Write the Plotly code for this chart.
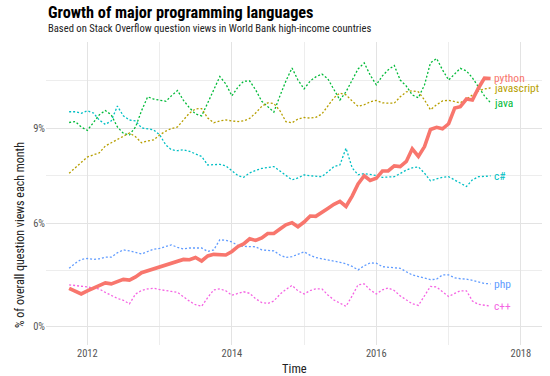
import pandas as pd
import plotly.graph_objects as go

months = pd.date_range("2011-10-01", periods=71, freq="MS")

python = [3.95, 3.87, 3.77, 3.87, 3.95, 4.03, 4.12, 4.09, 4.15, 4.23,
          4.21, 4.31, 4.44, 4.50, 4.56, 4.62, 4.67, 4.72, 4.78, 4.86,
          4.85, 4.92, 4.81, 4.97, 5.02, 5.02, 5.00, 5.11, 5.27, 5.35,
          5.51, 5.46, 5.54, 5.68, 5.68, 5.82, 5.95, 6.02, 5.89, 6.04,
          6.23, 6.22, 6.36, 6.47, 6.60, 6.69, 6.53, 6.86, 7.24, 7.50,
          7.35, 7.42, 7.65, 7.65, 7.81, 7.79, 7.95, 8.35, 8.11, 8.42,
          8.96, 9.03, 8.98, 9.14, 9.64, 9.68, 9.92, 9.89, 10.27, 10.58,
          10.57]

javascript = [7.58, 7.75, 7.91, 8.09, 8.16, 8.22, 8.44, 8.54, 8.66, 8.76,
              8.85, 8.73, 8.54, 8.60, 8.63, 8.79, 8.91, 8.99, 9.04, 9.26,
              9.48, 9.61, 9.62, 9.32, 9.17, 9.23, 9.26, 9.23, 9.21, 9.23,
              9.31, 9.48, 9.69, 9.80, 9.78, 9.55, 9.21, 9.17, 9.29, 9.34,
              9.32, 9.34, 9.45, 9.70, 9.96, 10.11, 10.05, 9.86, 9.69, 9.74,
              9.83, 9.88, 9.80, 9.79, 9.79, 9.99, 10.15, 10.18, 10.15, 9.89,
              9.58, 9.74, 9.86, 9.88, 9.83, 9.80, 9.92, 10.05, 10.18, 10.24,
              10.27]

java = [9.18, 9.21, 9.04, 8.93, 9.18, 9.42, 9.56, 9.42, 9.04, 8.84,
        8.79, 9.04, 9.55, 9.99, 9.92, 9.88, 9.85, 10.02, 10.19, 9.88,
        9.64, 9.45, 9.39, 9.80, 10.21, 10.63, 10.40, 10.02, 10.30, 10.48,
        10.49, 10.21, 9.85, 9.67, 9.51, 10.02, 10.49, 10.90, 10.52, 10.24,
        10.49, 10.62, 10.71, 10.56, 10.21, 9.89, 10.15, 10.52, 10.87, 11.06,
        10.68, 10.37, 10.65, 10.84, 10.98, 10.52, 10.33, 10.05, 9.96, 10.37,
        11.06, 11.20, 10.84, 10.52, 10.71, 10.89, 10.81, 10.59, 10.30, 10.02,
        9.80]

csharp = [9.52, 9.52, 9.47, 9.55, 9.48, 9.26, 9.12, 9.23, 9.70, 9.39,
          9.26, 9.23, 9.01, 8.97, 8.95, 8.79, 8.47, 8.32, 8.29, 8.32,
          8.27, 8.19, 8.11, 7.84, 7.86, 7.86, 7.81, 7.65, 7.50, 7.45,
          7.59, 7.67, 7.73, 7.76, 7.79, 7.65, 7.51, 7.37, 7.43, 7.53,
          7.50, 7.48, 7.47, 7.62, 7.79, 7.84, 8.37, 7.75, 7.53, 7.57,
          7.54, 7.51, 7.45, 7.46, 7.47, 7.57, 7.68, 7.75, 7.78, 7.58,
          7.34, 7.40, 7.45, 7.47, 7.37, 7.26, 7.16, 7.37, 7.47, 7.48,
          7.50]

php = [4.58, 4.74, 4.86, 4.89, 4.86, 4.88, 4.93, 4.93, 5.07, 5.16,
       5.13, 5.08, 5.03, 5.11, 5.18, 5.21, 5.27, 5.32, 5.24, 5.19,
       5.22, 5.23, 5.22, 5.11, 5.16, 5.48, 5.46, 5.41, 5.30, 5.27,
       5.27, 5.26, 5.16, 5.15, 5.13, 5.00, 4.92, 4.95, 5.03, 5.10,
       4.99, 4.92, 4.88, 4.85, 4.81, 4.77, 4.72, 4.64, 4.53, 4.66,
       4.75, 4.74, 4.63, 4.61, 4.59, 4.58, 4.47, 4.37, 4.32, 4.28,
       4.22, 4.24, 4.37, 4.37, 4.28, 4.25, 4.24, 4.20, 4.15, 4.10,
       4.09]

cpp = [4.06, 4.04, 4.03, 3.99, 3.96, 3.93, 3.82, 3.73, 3.63, 3.57,
       3.46, 3.77, 3.88, 3.93, 3.95, 3.91, 3.87, 3.85, 3.82, 3.68,
       3.54, 3.43, 3.38, 3.66, 3.90, 3.93, 3.87, 3.73, 3.79, 3.84,
       3.79, 3.62, 3.50, 3.47, 3.55, 3.76, 3.91, 4.04, 3.87, 3.77,
       3.88, 3.93, 3.93, 3.74, 3.58, 3.47, 3.38, 3.71, 4.06, 4.09,
       3.90, 3.77, 3.90, 3.96, 3.88, 3.71, 3.57, 3.46, 3.41, 3.71,
       4.01, 3.99, 3.84, 3.69, 3.79, 3.87, 3.87, 3.55, 3.44, 3.41,
       3.39]

series_names = ["c#", "c++", "java", "javascript", "php", "python"]
series_values = [csharp, cpp, java, javascript, php, python]
series_colors = ["#00BFC4", "#F564E3", "#00BA38", "#B79F00", "#619CFF", "#F8766D"]

y_tick_vals = [2.74, 6, 9]
y_tick_text = ["0%", "6%", "9%"]
y_minor_vals = [4.5, 7.5, 10.5]
x_tick_vals = ["2012-01-01", "2014-01-01", "2016-01-01", "2018-01-01"]
x_tick_text = ["2012", "2014", "2016", "2018"]
x_minor_vals = ["2013-01-01", "2015-01-01", "2017-01-01"]

FONT = "Liberation Sans Narrow, Roboto Condensed, Roboto, sans-serif"

fig = go.Figure()
for name, vals, col in zip(series_names, series_values, series_colors):
    if name == "python":
        continue
    fig.add_trace(go.Scatter(x=months, y=vals, mode="lines", name=name,
                             line=dict(color=col, width=1.3, dash="2px,2px")))
fig.add_trace(go.Scatter(x=months, y=python, mode="lines", name="python",
                         line=dict(color="#F8766D", width=3.6)))

for name, vals, col in zip(series_names, series_values, series_colors):
    fig.add_annotation(x=months[-1], y=vals[-1], text=name, showarrow=False,
                       xanchor="left", yanchor="middle", xshift=1,
                       font=dict(family=FONT, size=11.5, color=col))

fig.add_annotation(xref="paper", yref="paper", x=0, y=1.099, text="<b>Growth of major programming languages</b>",
                   showarrow=False, xanchor="left", yanchor="middle",
                   font=dict(family=FONT, size=16.3, color="#000000"))
fig.add_annotation(xref="paper", yref="paper", x=0, y=1.046,
                   text="Based on Stack Overflow question views in World Bank high-income countries",
                   showarrow=False, xanchor="left", yanchor="middle",
                   font=dict(family=FONT, size=10.6, color="#222222"))
fig.add_annotation(xref="paper", yref="paper", x=-0.0524, y=0.363,
                   text="% of overall question views each month", textangle=-90,
                   showarrow=False, xanchor="center", yanchor="middle",
                   font=dict(family=FONT, size=12, color="#222222"))
fig.add_annotation(xref="paper", yref="paper", x=0.5, y=-0.076, text="Time",
                   showarrow=False, xanchor="center", yanchor="middle",
                   font=dict(family=FONT, size=12.5, color="#222222"))

fig.update_layout(
    width=550, height=376,
    margin=dict(l=46, r=8, t=42, b=31),
    paper_bgcolor="white", plot_bgcolor="white",
    showlegend=False,
    font=dict(family=FONT),
    xaxis=dict(type="date", range=["2011-06-06", "2018-04-18"],
               tickmode="array", tickvals=x_tick_vals, ticktext=x_tick_text,
               showgrid=True, gridcolor="#e3e3e3", gridwidth=1,
               minor=dict(tickmode="array", tickvals=x_minor_vals, showgrid=True,
                          gridcolor="#ededed", gridwidth=0.8),
               zeroline=False, showline=False, ticks="",
               tickfont=dict(family=FONT, size=10.5, color="#555555")),
    yaxis=dict(range=[2.16, 11.72], tickmode="array", tickvals=y_tick_vals,
               ticktext=y_tick_text, showgrid=True, gridcolor="#e3e3e3", gridwidth=1,
               minor=dict(tickmode="array", tickvals=y_minor_vals, showgrid=True,
                          gridcolor="#ededed", gridwidth=0.8),
               zeroline=False, showline=False, ticks="",
               tickfont=dict(family=FONT, size=10.5, color="#555555")),
)

fig.write_html("out.html", config={"displayModeBar": False},
               post_script="document.body.style.margin='0px';document.body.style.overflow='hidden';")
